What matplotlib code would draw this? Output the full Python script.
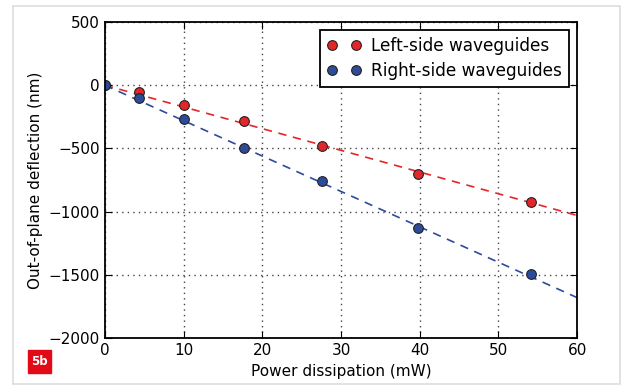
import numpy as np
import matplotlib.pyplot as plt
from matplotlib.patches import Rectangle

power = [0, 4.4, 10, 17.7, 27.6, 39.8, 54.1]
left_defl = [0, -55, -160, -285, -480, -700, -925]
right_defl = [0, -100, -265, -500, -755, -1130, -1495]
fit_x = [0, 60]
left_fit = [0, -1030]
right_fit = [0, -1680]

red = '#e3262a'
blue = '#2d4b9b'

fig = plt.figure(figsize=(6.24, 3.86), dpi=100)
ax = fig.add_axes([0.168, 0.124, 0.757, 0.819])

ax.plot(fit_x, left_fit, color=red, lw=1.2, dashes=(5, 4))
ax.plot(fit_x, right_fit, color=blue, lw=1.2, dashes=(5, 4))
ax.plot(power, left_defl, 'o', color=red, mec='#222222', mew=0.8, ms=7,
        label='Left-side waveguides')
ax.plot(power, right_defl, 'o', color=blue, mec='#222222', mew=0.8, ms=7,
        label='Right-side waveguides')

ax.set_xlim(0, 60)
ax.set_ylim(-2000, 500)
ax.set_xticks(range(0, 61, 10))
ax.set_yticks(range(-2000, 501, 500))
ax.set_yticklabels(['\u22122000', '\u22121500', '\u22121000', '\u2212500', '0', '500'])
ax.grid(True, linestyle=(0, (1, 3)), color='#444444', lw=1)
ax.tick_params(direction='in', top=True, right=True, labelsize=11, length=5)
for s in ax.spines.values():
    s.set_linewidth(1.3)
ax.set_xlabel('Power dissipation (mW)', fontsize=11, labelpad=4)
ax.set_ylabel('Out-of-plane deflection (nm)', fontsize=11)

leg = ax.legend(loc='upper right', numpoints=2, fontsize=12.2, fancybox=False,
                framealpha=1, edgecolor='black', borderpad=0.4,
                handletextpad=0.6, handlelength=2.0, labelspacing=0.4)
leg.get_frame().set_linewidth(1.3)

# figure frame and panel tag
fig.patches.append(Rectangle((13 / 624, 2 / 386), 607 / 624, 378 / 386,
                             transform=fig.transFigure, fill=False,
                             ec='#dddddd', lw=1.2))
fig.patches.append(Rectangle((28 / 624, 13 / 386), 23 / 624, 23 / 386,
                             transform=fig.transFigure, color='#e30a17'))
fig.text(39.5 / 624, 24.5 / 386, '5b', color='white', fontsize=8.5, fontweight='bold',
         ha='center', va='center')

fig.savefig('out.png', dpi=100)
